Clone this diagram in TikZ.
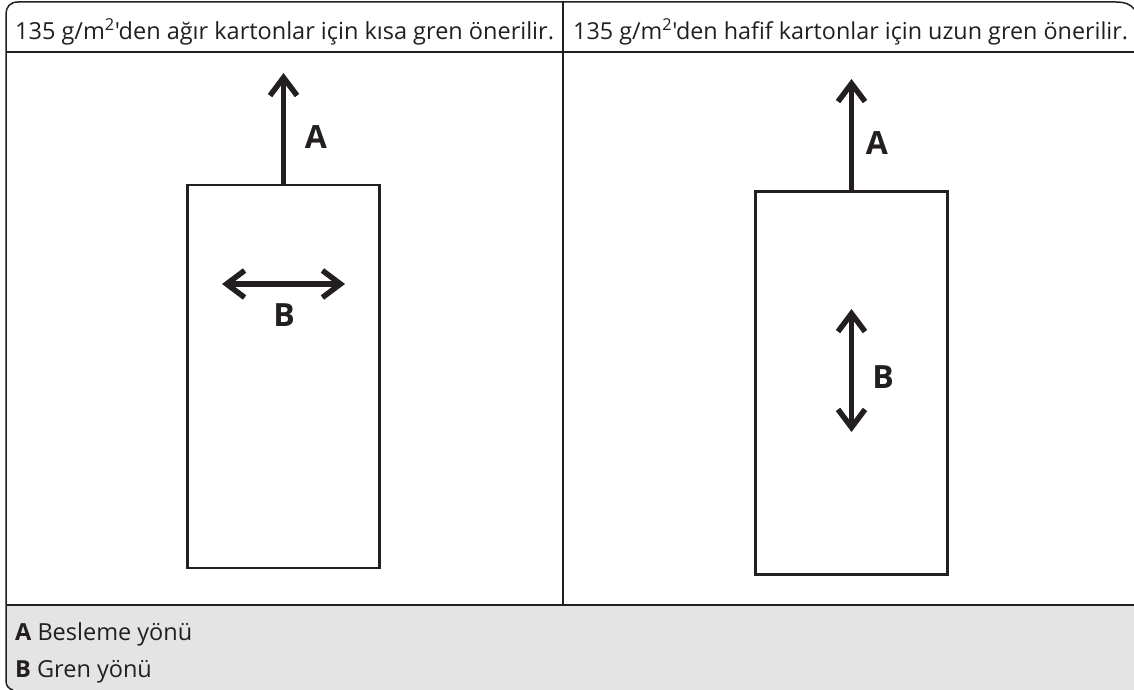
\documentclass[tikz,border=0pt]{standalone}
\usepackage{fontspec}
\newfontfamily\mainf{Open Sans}
\usetikzlibrary{arrows.meta}
\definecolor{ink}{HTML}{231F20}
\definecolor{band}{HTML}{E4E4E4}
\tikzset{
  x=1pt,y=-1pt,
  rule/.style={draw=ink,line width=1.5pt},
  sheet/.style={draw=ink,line width=2.4pt,fill=white,minimum width=192pt,minimum height=383pt,inner sep=0pt,outer sep=0pt},
  flow/.style={draw=ink,line width=5.5pt,-{Straight Barb[length=18pt,width=27pt]}},
  flowboth/.style={draw=ink,line width=5.5pt,{Straight Barb[length=18pt,width=27pt]}-{Straight Barb[length=18pt,width=27pt]}},
  head/.style={anchor=base west,inner sep=0pt,font=\mainf\fontsize{23.5pt}{28pt}\selectfont,text=ink},
  headb/.style={anchor=base west,inner sep=0pt,font=\mainf\fontsize{23.35pt}{28pt}\selectfont,text=ink},
  key/.style={anchor=base west,inner sep=0pt,font=\mainf\fontsize{23.5pt}{26pt}\selectfont,text=ink},
  letter/.style={inner sep=0pt,font=\mainf\fontsize{32pt}{34pt}\selectfont\bfseries,text=ink}
}
\begin{document}
\begin{tikzpicture}
\useasboundingbox (0,0) rectangle (1134,690);
\fill[white] (0,0) rectangle (1134,690);
\fill[band] (6,606) -- (1134,606) -- (1134,690) -- (14,690) .. controls (9,689) and (6,686) .. (6,681) -- cycle;
\draw[rule] (13,690) .. controls (9,689) and (6,686) .. (6,681) -- (6,14) .. controls (6,7) and (10,2) .. (18,2) -- (1116,2) .. controls (1126,2) and (1131,5) .. (1134,9);
\draw[rule] (6,52) -- (1134,52);
\draw[rule] (6,605) -- (1134,605);
\draw[rule] (563,2) -- (563,605);
\node[head] (h1) at (15,40) {135 g/m\textsuperscript{2}'den ağır kartonlar için kısa gren önerilir.};
\node[headb] (h2) at (573,40) {135 g/m\textsuperscript{2}'den hafif kartonlar için uzun gren önerilir.};
\node[sheet] (s1) at (283.5,376.5) {};
\node[sheet] (s2) at (851.5,383) {};
\coordinate (a1) at (283.5,73);
\coordinate (a2) at (851.5,79);
\draw[flow] (s1.north) -- (a1);
\draw[flow] (s2.north) -- (a2);
\coordinate (b1l) at (222,284);
\coordinate (b1r) at (345,284);
\coordinate (b2t) at (851.5,309);
\coordinate (b2b) at (851.5,432);
\draw[flowboth] (b1l) -- (b1r);
\draw[flowboth] (b2t) -- (b2b);
\node[letter] (la1) at (316,137) {A};
\node[letter] (la2) at (877,143) {A};
\node[letter] (lb1) at (284,315) {B};
\node[letter] (lb2) at (883,377) {B};
\node[key] (k1) at (15,640) {\textbf{A} Besleme yönü};
\node[key] (k2) at (15,677) {\textbf{B} Gren yönü};
\end{tikzpicture}
\end{document}
